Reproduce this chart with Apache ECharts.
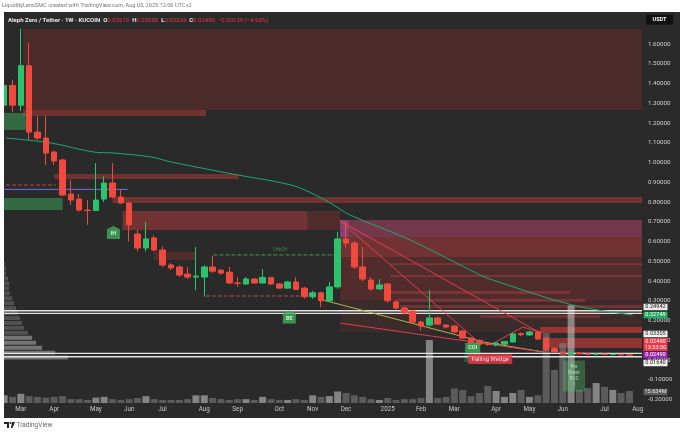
<!DOCTYPE html>
<html><head><meta charset="utf-8">
<script src="https://cdn.jsdelivr.net/npm/echarts@6/dist/echarts.min.js"></script>
<style>html,body{margin:0;padding:0;background:#fff}#c{width:680px;height:434px}</style>
</head><body><div id="c"></div>
<script>
// ---------------- DATA ----------------
const weeks = ['2024-02-19','2024-02-26','2024-03-04','2024-03-11','2024-03-18','2024-03-25','2024-04-01','2024-04-08','2024-04-15','2024-04-22','2024-04-29','2024-05-06','2024-05-13','2024-05-20','2024-05-27','2024-06-03','2024-06-10','2024-06-17','2024-06-24','2024-07-01','2024-07-08','2024-07-15','2024-07-22','2024-07-29','2024-08-05','2024-08-12','2024-08-19','2024-08-26','2024-09-02','2024-09-09','2024-09-16','2024-09-23','2024-09-30','2024-10-07','2024-10-14','2024-10-21','2024-10-28','2024-11-04','2024-11-11','2024-11-18','2024-11-25','2024-12-02','2024-12-09','2024-12-16','2024-12-23','2024-12-30','2025-01-06','2025-01-13','2025-01-20','2025-01-27','2025-02-03','2025-02-10','2025-02-17','2025-02-24','2025-03-03','2025-03-10','2025-03-17','2025-03-24','2025-03-31','2025-04-07','2025-04-14','2025-04-21','2025-04-28','2025-05-05','2025-05-12','2025-05-19','2025-05-26','2025-06-02','2025-06-09','2025-06-16','2025-06-23','2025-06-30','2025-07-07','2025-07-14','2025-07-21','2025-07-28'];
const opens = [1.29,1.39,1.29,1.49,1.154,1.124,1.053,1.013,0.840,0.815,0.759,0.757,0.815,0.896,0.825,0.795,0.638,0.567,0.618,0.557,0.481,0.471,0.435,0.42,0.42,0.471,0.455,0.445,0.39,0.385,0.41,0.39,0.418,0.385,0.364,0.395,0.364,0.32,0.34,0.30,0.37,0.613,0.592,0.471,0.405,0.36,0.385,0.294,0.263,0.248,0.192,0.177,0.213,0.177,0.172,0.147,0.111,0.10,0.082,0.077,0.08,0.091,0.134,0.127,0.142,0.111,0.058,0.040,0.033,0.036,0.031,0.029,0.030,0.028,0.029,0.02619];
const closes = [1.39,1.29,1.49,1.154,1.124,1.048,1.008,0.835,0.810,0.759,0.757,0.81,0.896,0.825,0.795,0.684,0.567,0.613,0.557,0.481,0.466,0.430,0.42,0.425,0.471,0.45,0.44,0.39,0.388,0.41,0.39,0.418,0.385,0.364,0.395,0.358,0.32,0.34,0.30,0.37,0.613,0.592,0.471,0.41,0.36,0.38,0.30,0.263,0.238,0.192,0.172,0.213,0.182,0.167,0.142,0.111,0.086,0.082,0.079,0.086,0.094,0.132,0.128,0.142,0.106,0.051,0.040,0.033,0.036,0.031,0.029,0.030,0.028,0.029,0.02619,0.02490];
const lows = [1.25,1.256,1.26,1.114,1.114,0.987,0.987,0.83,0.785,0.75,0.684,0.755,0.80,0.82,0.79,0.60,0.55,0.55,0.55,0.47,0.455,0.42,0.41,0.354,0.32,0.44,0.43,0.385,0.37,0.38,0.385,0.385,0.38,0.36,0.36,0.355,0.31,0.31,0.268,0.295,0.36,0.57,0.46,0.40,0.35,0.355,0.29,0.255,0.23,0.185,0.15,0.17,0.178,0.16,0.135,0.105,0.08,0.075,0.072,0.07,0.078,0.088,0.12,0.122,0.10,0.045,0.035,0.028,0.020,0.029,0.026,0.027,0.026,0.026,0.025,0.02334];
const highs = [1.45,1.42,1.70,1.605,1.235,1.235,1.06,1.02,0.911,0.84,0.81,0.997,0.93,0.997,0.86,0.80,0.66,0.70,0.63,0.575,0.49,0.48,0.471,0.572,0.48,0.527,0.46,0.471,0.42,0.42,0.415,0.46,0.42,0.39,0.40,0.42,0.37,0.35,0.345,0.395,0.65,0.704,0.60,0.572,0.42,0.41,0.39,0.30,0.27,0.25,0.20,0.354,0.22,0.18,0.175,0.15,0.115,0.105,0.088,0.09,0.097,0.138,0.14,0.148,0.15,0.115,0.066,0.045,0.048,0.038,0.033,0.032,0.032,0.031,0.031,0.032];
const volumesM = [10,8,12,9,8,7,8,9,5,5,4,7,8,5,4,5,6.5,9,5,4,4,4,5,10,10,6.5,5,4,5,5,4,8,5,4,4,5,4,10,8,9,15,13,10,8,5,4,6.5,4,5,5,6.5,82,6.5,8,19,17,9,13,22,15.6,8,13,17,8,10,91,43,78,127,17,19.5,26,21,17,13,15.634];

// week-index ticks (weeks after 2024-03-04) and their labels
const monthTickWeeks = [0,4,9,13,17,22,26,31,35,39,44,48,52,57,61,65,70,74];
const monthTickLabels = ['Mar','Apr','May','Jun','Jul','Aug','Sep','Oct','Nov','Dec','2025','Feb','Mar','Apr','May','Jun','Jul','Aug'];

// moving average readings [weekIndex, price]
const maPoints = [[-1.8,1.124],[3.6,1.099],[8.75,1.053],[11.15,1.048],[15.6,1.028],[18,1.003],[26,0.937],[30.8,0.901],[33.5,0.871],[37.1,0.795],[39.5,0.734],[46.7,0.608],[55.1,0.430],[56.6,0.405],[66.2,0.278],[73.4,0.228]];

// zones: [fromWeek, toWeek, priceTop, priceBottom, kind]
const zones = [
  [0.25,74.5,1.70,1.266,'dark'],
  [0.25,22.2,1.266,1.235,'red'],
  [-2.5,0.6,1.251,1.165,'green'],
  [-2.5,5.0,0.82,0.76,'green'],
  [4.0,26.1,0.942,0.916,'red'],
  [11.0,74.5,0.825,0.795,'red'],
  [12.2,34.4,0.754,0.658,'red'],
  [34.4,38.3,0.754,0.658,'dim'],
  [15.9,21.0,0.547,0.506,'dim'],
  [38.3,74.5,0.709,0.623,'pink'],
  [38.3,39.3,0.709,0.623,'purple'],
  [38.3,74.5,0.623,0.52,'red'],
  [38.3,74.5,0.52,0.30,'dim'],
  [38.3,74.5,0.30,0.14,'faint'],
  [44.3,74.5,0.49,0.48,'stripe'],
  [44.3,74.5,0.43,0.42,'stripe'],
  [44.3,65.9,0.349,0.334,'stripe'],
  [44.9,67.7,0.309,0.294,'stripe'],
  [45.5,74.5,0.278,0.263,'stripe'],
  [55.1,69.5,0.228,0.213,'stripe'],
  [62.3,74.5,0.167,0.137,'bright'],
  [62.9,74.5,0.111,0.061,'bright'],
  [53.2,55.1,0.036,-0.01,'greenFaint']
];

// trend lines: list of [weekIndex, price] points
const wedgeLines = [
  {pts:[[38.3,0.704],[55.3,0.076]], kind:'red'},
  {pts:[[38.3,0.704],[62.3,0.137]], kind:'red'},
  {pts:[[56.3,0.076],[60.2,0.167],[62.6,0.137]], kind:'red'},
  {pts:[[36.2,0.304],[55.5,0.091],[62.6,0.041]], kind:'olive'},
  {pts:[[38.3,0.187],[62.6,0.041]], kind:'red'}
];
// horizontal levels [price, fromWeek, toWeek, kind]
const levels = [
  [0.24942,-2.5,74.5,'white'],[0.2365,-2.5,74.5,'white'],
  [0.03305,-2.5,74.5,'white'],[0.01640,-2.5,74.5,'white'],
  [0.886,-2.5,4.2,'reddash'],[0.864,-2.5,12.8,'blue'],
  [0.532,23.1,37.7,'greendash'],[0.324,22.2,34.4,'reddash']
];

// left volume profile: bin low price, bin high price, volume (M)
const profileLow = [0.575,0.55,0.525,0.50,0.475,0.45,0.425,0.40,0.375,0.35,0.325,0.30,0.275,0.25,0.225,0.20,0.175,0.15,0.125,0.10,0.075,0.05,0.025,0.0];
const profileVol = [15,23,23,31,38,46,46,61,69,69,77,92,107,122,138,153,168,184,214,245,275,321,421,520];

// annotations
const annotations = [
  {t:'IH', w:11.1, p:0.646, kind:'badge'},
  {t:'BE', w:32.2, p:0.218, kind:'badge'},
  {t:'COI', w:54.2, p:0.061, kind:'tag'},
  {t:'Falling Wedge', w:56.3, p:0.005, kind:'wedge'},
  {t:'Pre\nBreak\nBOS\n1', w:66.35, p:-0.081, kind:'box'},
  {t:'CHoCH', w:31.1, p:0.557, kind:'text'}
];

// ---------------- BUILD ----------------
const base = Date.parse('2024-03-04');
const wi = weeks.map(d => Math.round((Date.parse(d) - base) / (7 * 864e5)));
const UP = '#2bc46c', DOWN = '#f0493e';
const ZC = {dark:'rgba(140,45,45,0.34)', red:'rgba(200,60,60,0.45)', dim:'rgba(170,50,50,0.30)', green:'rgba(60,170,90,0.5)',
  pink:'rgba(185,70,105,0.5)', purple:'rgba(150,80,170,0.45)', faint:'rgba(170,50,50,0.14)', stripe:'rgba(215,70,70,0.33)', bright:'rgba(225,60,60,0.55)', greenFaint:'rgba(70,180,100,0.35)'};
const LC = {red:'rgba(235,60,80,0.95)', olive:'rgba(175,190,70,0.95)'};
const LV = {white:{color:'rgba(235,235,235,0.95)', width:1.3, type:'solid'}, reddash:{color:'rgba(220,80,80,0.8)', width:1, type:'dashed'},
  blue:{color:'rgba(120,120,235,0.9)', width:1, type:'solid'}, greendash:{color:'rgba(60,180,100,0.85)', width:1, type:'dashed'}};
const FONT = 'Roboto, "Liberation Sans", sans-serif';

const series = [];
series.push({
  type:'custom', name:'zones', xAxisIndex:0, yAxisIndex:0, z:1, silent:true,
  data: zones.map(z => [z[0], z[2], z[1], z[3]]),
  encode:{x:[0,2], y:[1,3]},
  renderItem:(params, api) => {
    const a = api.coord([api.value(0), api.value(1)]);
    const b = api.coord([api.value(2), api.value(3)]);
    const cs = params.coordSys;
    const r = echarts.graphic.clipRectByRect({x:a[0], y:a[1], width:b[0]-a[0], height:b[1]-a[1]}, {x:cs.x, y:cs.y, width:cs.width, height:cs.height});
    return r ? {type:'rect', shape:r, style:{fill: ZC[zones[params.dataIndex][4]]}} : null;
  }
});
series.push({
  type:'custom', name:'profile', xAxisIndex:1, yAxisIndex:0, z:2, silent:true,
  data: profileLow.map((p,k) => [profileVol[k], p, p + 0.025]),
  encode:{x:0, y:[1,2]},
  renderItem:(params, api) => {
    const a = api.coord([0, api.value(2)]);
    const b = api.coord([api.value(0), api.value(1)]);
    const light = params.dataIndex >= 19;
    return {type:'rect', shape:{x:a[0], y:a[1]+0.5, width:b[0]-a[0], height:b[1]-a[1]-1},
      style:{fill: light ? 'rgba(190,190,190,0.5)' : 'rgba(140,140,140,0.4)'}};
  }
});
series.push({
  type:'bar', name:'volume', xAxisIndex:2, yAxisIndex:1, z:2, barWidth:7, silent:true,
  data: wi.map((w,k) => ({value:[w, volumesM[k]], itemStyle:{color: closes[k] >= opens[k] ? 'rgba(205,205,205,0.55)' : 'rgba(140,140,140,0.5)'}}))
});
levels.forEach(l => series.push({
  type:'line', xAxisIndex:0, yAxisIndex:0, z:3, symbol:'none', silent:true,
  data:[[l[1], l[0]], [l[2], l[0]]], lineStyle: LV[l[3]]
}));
series.push({
  type:'line', name:'MA', xAxisIndex:0, yAxisIndex:0, z:3, symbol:'none', smooth:0.35, silent:true,
  data: maPoints, lineStyle:{color:'#1fa874', width:1}
});
wedgeLines.forEach(l => series.push({
  type:'line', xAxisIndex:0, yAxisIndex:0, z:4, symbol:'none', silent:true,
  data: l.pts, lineStyle:{color: LC[l.kind], width:1}
}));
series.push({
  type:'candlestick', name:'AZERO', xAxisIndex:0, yAxisIndex:0, z:5, barWidth:6,
  data: wi.map((w,k) => [w, opens[k], closes[k], lows[k], highs[k]]),
  encode:{x:0, y:[1,2,3,4]},
  itemStyle:{color:UP, color0:DOWN, borderColor:UP, borderColor0:DOWN, borderWidth:1}
});
const badgePath = 'path://M5,0 L10,3 L10,12 L0,12 L0,3 Z';
series.push({
  type:'scatter', name:'notes', xAxisIndex:0, yAxisIndex:0, z:8, silent:true,
  data: annotations.map(a => {
    const o = {value:[a.w, a.p], label:{show:true, position:'inside', formatter:a.t, fontFamily:FONT, fontSize:5.5, fontWeight:'bold', color:'#fff'}};
    if (a.kind === 'badge') { o.symbol = badgePath; o.symbolSize = [13,13]; o.symbolKeepAspect = false; o.itemStyle = {color:'#3fae5a'}; o.label.offset=[0,1.5]; }
    else if (a.kind === 'tag') { o.symbol = 'rect'; o.symbolSize = [15,10]; o.itemStyle = {color:'#3fae5a'}; }
    else if (a.kind === 'wedge') { o.symbol = 'rect'; o.symbolSize = [44,10]; o.itemStyle = {color:'#e8394a'}; o.label.fontWeight='normal'; o.label.fontSize=6; }
    else if (a.kind === 'box') { o.symbol = 'rect'; o.symbolSize = [22,31]; o.itemStyle = {color:'rgba(90,200,110,0.42)'}; o.label.fontSize=4.5; o.label.lineHeight=6; o.label.fontWeight='normal'; o.label.color='rgba(220,255,225,0.8)'; }
    else { o.symbolSize = 0; o.label.color = '#3fae5a'; o.label.fontSize = 4.5; o.label.fontWeight='normal'; }
    return o;
  })
});

const rightLabels = [
  ['0.24942','#e9e9e9','#222',307,6.5],
  ['0.22749','#1fae60','#fff',315,6.5],
  ['0.03305','#f2f2f2','#222',334,6.5],
  ['0.02490\n13:53:50','#f23645','#fff',344.5,13],
  ['0.02490','#9c27b0','#fff',355,6.5],
  ['0.01640','#f2f2f2','#222',363,6.5],
  ['15.634M','#5d5d5d','#e0e0e0',392,6.5]
];
const graphics = [
  {type:'rect', z:100, shape:{x:0,y:0,width:680,height:12}, style:{fill:'#fff'}},
  {type:'rect', z:100, shape:{x:0,y:418,width:680,height:16}, style:{fill:'#fff'}},
  {type:'rect', z:100, shape:{x:0,y:0,width:4,height:434}, style:{fill:'#fff'}},
  {type:'rect', z:90, shape:{x:4,y:12,width:676,height:17}, style:{fill:'#2a2a2a'}},
  {type:'text', z:110, x:2, y:6, style:{text:'LiquidityLensSMC created with TradingView.com, Aug 03, 2025 12:06 UTC+2', fill:'#777', font:'5.6px '+FONT, textVerticalAlign:'middle'}},
  {type:'text', z:110, x:8, y:20.5, style:{
    text:'{t|Aleph Zero / Tether · 1W · KUCOIN}  {k|O}{v|0.02619}  {k|H}{v|0.03200}  {k|L}{v|0.02334}  {k|C}{v|0.02490}  {v|−0.00129 (−4.93%)}',
    textVerticalAlign:'middle', font:'6px '+FONT,
    rich:{t:{fill:'#e8e8e8', fontWeight:'bold', fontSize:6, fontFamily:FONT}, k:{fill:'#e8e8e8', fontSize:6, fontWeight:'bold', fontFamily:FONT}, v:{fill:'#f23645', fontSize:6, fontFamily:FONT}}}},
  {type:'rect', z:110, shape:{x:646,y:14.5,width:27,height:10}, style:{fill:'#111'}},
  {type:'text', z:111, x:659.5, y:19.5, style:{text:'USDT', fill:'#fff', font:'bold 5.5px '+FONT, textAlign:'center', textVerticalAlign:'middle'}},
  {type:'polygon', z:110, shape:{points:[[4,422],[9,422],[9,428],[7,428],[7,424],[4,424]]}, style:{fill:'#222'}},
  {type:'circle', z:110, shape:{cx:10.5,cy:423,r:1}, style:{fill:'#222'}},
  {type:'polygon', z:110, shape:{points:[[12,422],[15,422],[12.5,428],[11,428]]}, style:{fill:'#222'}},
  {type:'text', z:110, x:16.5, y:425.5, style:{text:'TradingView', fill:'#666', font:'6.5px '+FONT, textVerticalAlign:'middle'}}
];
rightLabels.forEach(l => {
  graphics.push({type:'rect', z:95, shape:{x:643.5, y:l[3]-l[4]/2, width:24, height:l[4]}, style:{fill:l[1]}});
  graphics.push({type:'text', z:96, x:655.5, y:l[3], style:{text:l[0], fill:l[2], font:'5.6px '+FONT, textAlign:'center', textVerticalAlign:'middle', lineHeight:6.3}});
});

const chart = echarts.init(document.getElementById('c'), null, {renderer:'canvas', width:680, height:434});
chart.setOption({
  backgroundColor:'#2a2a2a',
  animation:false,
  grid:[
    {left:-1, right:38, top:29, bottom:34.5},
    {left:-1, right:38, top:300, bottom:31}
  ],
  xAxis:[
    {type:'value', gridIndex:0, min:-2.5, max:74.5, splitLine:{show:false}, axisLine:{show:false}, axisTick:{show:false},
     axisLabel:{customValues:monthTickWeeks, formatter:v => monthTickLabels[monthTickWeeks.indexOf(Math.round(v))] || '', color:'#c8c8c8', fontSize:6.3, fontFamily:FONT, margin:7}},
    {type:'value', gridIndex:0, min:0, max:4900, show:false, position:'top'},
    {type:'value', gridIndex:1, min:-2.5, max:74.5, show:false}
  ],
  yAxis:[
    {type:'value', gridIndex:0, position:'right', min:-0.2, max:1.676, interval:0.1, splitLine:{show:false}, axisLine:{show:false}, axisTick:{show:false},
     axisLabel:{showMaxLabel:false, formatter:v => v.toFixed(5), color:'#d0d0d0', fontSize:6.2, fontFamily:FONT, margin:6}},
    {type:'value', gridIndex:1, min:0, max:134, show:false}
  ],
  series: series,
  graphic: graphics
});
</script></body></html>
